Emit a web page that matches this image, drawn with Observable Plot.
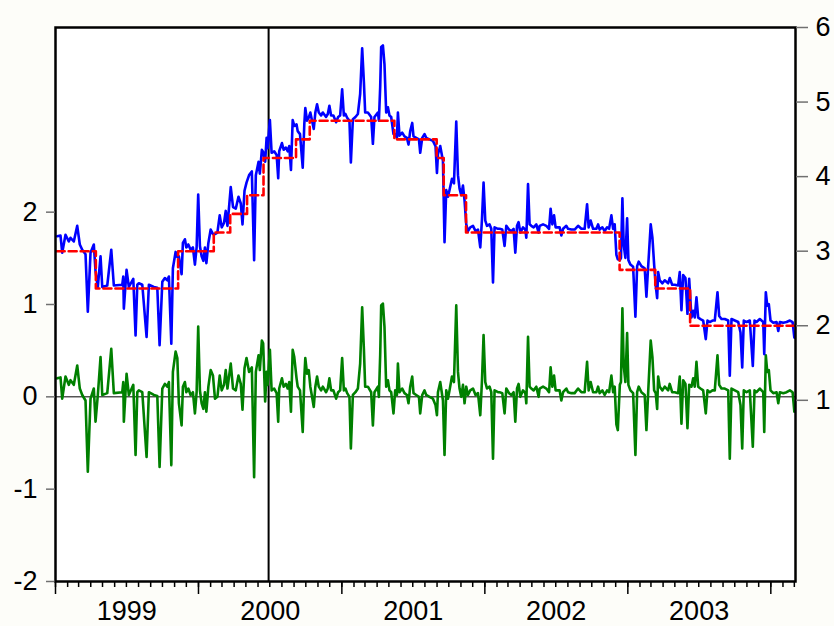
<!DOCTYPE html>
<html><head><meta charset="utf-8">
<script src="https://cdn.jsdelivr.net/npm/d3@7"></script>
<script src="https://cdn.jsdelivr.net/npm/@observablehq/plot@0.6"></script>
<style>
html,body{margin:0;padding:0;background:#fdfdf9;}
#chart{width:834px;height:626px;}
</style></head><body><div id="chart"></div>
<script>
// ECB main refinancing (minimum bid) rate, effective dates (right axis, %)
const mroDates = ["1999-01-04","1999-04-14","1999-11-10","2000-02-09","2000-03-22","2000-05-04","2000-06-15","2000-09-06","2000-10-11","2001-05-15","2001-08-31","2001-09-18","2001-11-14","2002-12-11","2003-03-12","2003-06-09","2004-03-02"];
const mroRates = [3.0,2.5,3.0,3.25,3.5,3.75,4.25,4.5,4.75,4.5,4.25,3.75,3.25,2.75,2.5,2.0,2.0];

// EONIA minus MRO spread (left axis), [decimal year, value]
const spread1999 = [[1999.012,0.20],[1999.035,0.21],[1999.047,-0.02],[1999.070,0.22],[1999.093,0.13],[1999.105,0.18],[1999.128,0.13],[1999.152,0.34],[1999.170,0.09],[1999.187,0.02],[1999.210,-0.04],[1999.226,-0.81],[1999.245,-0.02],[1999.268,0.09],[1999.280,-0.27],[1999.296,0.02],[1999.315,0.43],[1999.327,0.02],[1999.362,0.04],[1999.390,0.52],[1999.408,0.04],[1999.467,0.05],[1999.474,0.16],[1999.478,-0.27],[1999.497,0.25],[1999.513,0.02],[1999.544,0.13],[1999.560,-0.63],[1999.572,0.05],[1999.583,0.07],[1999.607,0.05],[1999.637,-0.65],[1999.653,0.05],[1999.688,0.02],[1999.712,0.01],[1999.728,-0.76],[1999.747,0.09],[1999.765,0.14],[1999.782,0.11],[1999.793,0.16],[1999.810,-0.74],[1999.821,0.27],[1999.840,0.49],[1999.852,0.42],[1999.863,-0.07],[1999.882,-0.31],[1999.891,0.11],[1999.905,0.16],[1999.915,0.05],[1999.929,0.09],[1999.945,0.02],[1999.961,0.05],[1999.975,-0.18],[1999.987,0.05],[1999.998,0.76]];
const spread2000 = [[2000.010,0.07],[2000.022,-0.07],[2000.034,-0.13],[2000.045,0.05],[2000.055,-0.16],[2000.069,0.11],[2000.085,0.29],[2000.101,0.23],[2000.115,-0.02],[2000.132,0.00],[2000.148,0.23],[2000.162,0.07],[2000.178,0.13],[2000.190,0.29],[2000.202,0.09],[2000.225,0.36],[2000.241,0.09],[2000.260,0.07],[2000.279,0.23],[2000.295,0.14],[2000.307,-0.14],[2000.321,0.31],[2000.335,0.42],[2000.353,0.27],[2000.372,0.32],[2000.388,-0.87],[2000.400,0.27],[2000.419,0.45],[2000.428,0.29],[2000.442,0.61],[2000.451,0.58],[2000.465,-0.05],[2000.475,0.27],[2000.482,0.13],[2000.498,0.51],[2000.510,0.07],[2000.528,0.09],[2000.545,0.04],[2000.556,-0.27],[2000.563,0.09],[2000.582,0.20],[2000.594,0.11],[2000.610,0.14],[2000.622,0.09],[2000.633,0.16],[2000.645,-0.16],[2000.657,0.51],[2000.668,0.43],[2000.684,0.20],[2000.692,0.11],[2000.708,0.07],[2000.727,-0.38],[2000.738,0.20],[2000.745,0.42],[2000.757,0.25],[2000.769,0.29],[2000.780,0.11],[2000.792,0.00],[2000.804,-0.11],[2000.815,0.11],[2000.827,0.22],[2000.839,0.11],[2000.855,0.07],[2000.867,0.11],[2000.890,0.05],[2000.902,0.09],[2000.913,0.20],[2000.925,0.07],[2000.941,0.07],[2000.960,-0.02],[2000.974,0.05],[2000.988,0.07]];
const spread2001 = [[2001.002,0.42],[2001.014,0.07],[2001.025,0.09],[2001.037,0.04],[2001.053,0.00],[2001.063,-0.56],[2001.077,0.02],[2001.095,0.05],[2001.112,0.09],[2001.128,0.36],[2001.142,0.97],[2001.154,0.52],[2001.163,0.11],[2001.182,0.11],[2001.205,0.05],[2001.217,-0.31],[2001.228,0.05],[2001.252,0.11],[2001.259,0.00],[2001.268,0.45],[2001.275,0.99],[2001.287,1.01],[2001.298,0.76],[2001.310,0.11],[2001.322,0.18],[2001.333,0.07],[2001.345,0.05],[2001.361,-0.18],[2001.373,0.07],[2001.385,0.02],[2001.392,0.36],[2001.403,0.05],[2001.422,0.09],[2001.438,0.04],[2001.455,0.02],[2001.466,-0.07],[2001.478,0.11],[2001.492,0.22],[2001.501,0.04],[2001.520,0.02],[2001.539,0.00],[2001.548,-0.18],[2001.562,0.02],[2001.578,0.07],[2001.590,0.02],[2001.613,0.00],[2001.637,-0.02],[2001.655,-0.09],[2001.665,-0.20],[2001.672,0.05],[2001.688,0.16],[2001.707,-0.04],[2001.718,-0.63],[2001.730,0.07],[2001.742,-0.02],[2001.753,0.07],[2001.770,0.22],[2001.784,0.16],[2001.800,0.99],[2001.812,0.27],[2001.823,0.09],[2001.835,0.00],[2001.847,0.13],[2001.858,-0.07],[2001.870,0.11],[2001.882,0.02],[2001.898,0.07],[2001.917,0.09],[2001.935,0.02],[2001.952,0.04],[2001.968,-0.20],[2001.980,0.18],[2001.991,0.67]];
const spread2002 = [[2002.003,0.16],[2002.015,0.09],[2002.033,0.11],[2002.045,0.05],[2002.057,-0.67],[2002.068,0.07],[2002.092,0.05],[2002.103,0.05],[2002.122,0.04],[2002.138,-0.18],[2002.150,0.09],[2002.169,0.04],[2002.185,0.02],[2002.201,0.05],[2002.213,-0.27],[2002.225,0.09],[2002.236,0.14],[2002.248,0.00],[2002.267,0.07],[2002.283,0.04],[2002.290,-0.07],[2002.302,0.65],[2002.313,0.11],[2002.325,0.09],[2002.341,0.07],[2002.360,0.11],[2002.376,0.00],[2002.383,0.09],[2002.407,0.11],[2002.430,0.09],[2002.449,0.05],[2002.460,0.32],[2002.472,0.11],[2002.484,0.23],[2002.495,0.07],[2002.523,0.07],[2002.535,-0.04],[2002.547,0.05],[2002.570,0.09],[2002.582,0.05],[2002.605,0.04],[2002.628,0.04],[2002.652,0.09],[2002.675,0.05],[2002.698,0.05],[2002.715,0.38],[2002.726,0.07],[2002.740,0.16],[2002.757,0.05],[2002.780,0.05],[2002.792,0.11],[2002.803,0.04],[2002.822,0.07],[2002.838,0.02],[2002.855,0.07],[2002.869,0.05],[2002.885,0.23],[2002.897,0.05],[2002.908,0.11],[2002.920,-0.30],[2002.930,-0.36],[2002.944,0.13],[2002.952,0.16],[2002.962,0.96],[2002.971,0.34],[2002.983,0.16],[2002.995,0.69]];
const spread2003 = [[2003.004,0.13],[2003.018,0.07],[2003.037,0.04],[2003.053,-0.63],[2003.065,0.05],[2003.076,0.11],[2003.095,0.05],[2003.118,0.02],[2003.130,-0.36],[2003.142,0.04],[2003.160,0.61],[2003.172,0.43],[2003.184,0.07],[2003.195,0.04],[2003.205,-0.13],[2003.212,0.22],[2003.223,0.11],[2003.242,0.07],[2003.258,0.11],[2003.282,0.07],[2003.293,0.14],[2003.310,0.05],[2003.328,0.05],[2003.352,0.04],[2003.363,0.22],[2003.375,-0.29],[2003.387,0.18],[2003.403,0.14],[2003.417,-0.34],[2003.429,0.13],[2003.445,0.11],[2003.457,0.20],[2003.468,0.11],[2003.480,0.38],[2003.492,0.11],[2003.508,0.09],[2003.527,0.07],[2003.545,-0.18],[2003.557,0.07],[2003.573,0.05],[2003.592,0.07],[2003.608,0.07],[2003.627,0.45],[2003.639,0.13],[2003.655,0.09],[2003.678,0.09],[2003.702,0.07],[2003.713,-0.67],[2003.725,0.09],[2003.748,0.07],[2003.772,0.05],[2003.788,-0.09],[2003.800,-0.56],[2003.811,0.07],[2003.830,0.05],[2003.853,0.07],[2003.874,-0.54],[2003.886,0.07],[2003.900,0.05],[2003.923,0.09],[2003.947,0.05],[2003.954,-0.38],[2003.965,0.45],[2003.975,0.27],[2003.986,0.29],[2003.998,0.07]];
const spread2004 = [[2004.017,0.04],[2004.040,0.05],[2004.052,-0.07],[2004.063,0.05],[2004.087,0.04],[2004.110,0.05],[2004.133,0.07],[2004.152,0.05],[2004.164,-0.16]];

const leftTicks = [-2,-1,0,1,2];
const rightTicks = [1,2,3,4,5,6];
const yearLabels = [1999,2000,2001,2002,2003];
const regimeChange = "2000-06-28";
const xDomain = ["1999-01-01","2004-03-04"];
const leftDomain = [-2,4];
const rightDomain = [-1.43,6];

function decYearToDate(t){const y=Math.floor(t);const s=Date.UTC(y,0,1),e=Date.UTC(y+1,0,1);return new Date(s+(t-y)*(e-s));}
const mro = mroDates.map((d,i)=>({date:new Date(d),rate:mroRates[i]}));
function mroAt(date){let r=mro[0].rate;for(const m of mro){if(m.date<=date)r=m.rate;else break;}return r;}
const spread = [].concat(spread1999,spread2000,spread2001,spread2002,spread2003,spread2004).map(([t,v])=>({date:decYearToDate(t),value:v}));
const eonia = spread.map(d=>({date:d.date,rate:mroAt(d.date)+d.value}));
const toLeft = r => leftDomain[0]+(r-rightDomain[0])*(leftDomain[1]-leftDomain[0])/(rightDomain[1]-rightDomain[0]);
const fromLeft = v => rightDomain[0]+(v-leftDomain[0])*(rightDomain[1]-rightDomain[0])/(leftDomain[1]-leftDomain[0]);

const x0 = new Date(xDomain[0]), x1 = new Date(xDomain[1]);
const months = d3.utcMonth.range(x0, x1);
const years = d3.utcYear.range(x0, x1);
const labelDates = yearLabels.map(y=>new Date(Date.UTC(y,6,2)));
const font = "'Liberation Sans', Arial, Helvetica, sans-serif";

const chart = Plot.plot({
  width:834, height:626,
  marginLeft:55, marginRight:39, marginTop:27, marginBottom:45,
  style:{background:"transparent", fontFamily:font, color:"black", overflow:"visible"},
  x:{type:"utc", domain:[x0,x1]},
  y:{domain:leftDomain},
  marks:[
    Plot.frame({fill:"white", stroke:null}),
    Plot.ruleY([0], {stroke:"black", strokeWidth:1}),
    Plot.ruleX([new Date(regimeChange)], {stroke:"black", strokeWidth:2}),
    Plot.lineY(spread, {x:"date", y:"value", stroke:"#008000", strokeWidth:2.6}),
    Plot.lineY(eonia, {x:"date", y:d=>toLeft(d.rate), stroke:"#0000ff", strokeWidth:2.6}),
    Plot.lineY(mro, {x:"date", y:d=>toLeft(d.rate), stroke:"#ff0000", strokeWidth:2.6, strokeDasharray:"8,4", curve:"step-after"}),
    Plot.frame({stroke:"black", strokeWidth:2.5}),
    Plot.axisY(leftTicks, {anchor:"left", label:null, tickSize:9, tickPadding:9, stroke:"#707070", strokeWidth:1.5, fill:"black", fontSize:27, tickFormat:d=>String(d)}),
    Plot.axisY(rightTicks.map(toLeft), {anchor:"right", label:null, tickSize:12, tickPadding:8, stroke:"#707070", strokeWidth:1.5, fill:"black", fontSize:27, tickFormat:v=>String(Math.round(fromLeft(v)))}),
    Plot.axisX(months, {anchor:"bottom", label:null, tickSize:6, stroke:"black", strokeWidth:1.5, fill:"none"}),
    Plot.axisX(years, {anchor:"bottom", label:null, tickSize:13, stroke:"black", strokeWidth:1.5, fill:"none"}),
    Plot.axisX(labelDates, {anchor:"bottom", label:null, tickSize:0, tickPadding:19, fill:"black", fontSize:27, tickFormat:d=>String(d.getUTCFullYear())})
  ]
});
document.getElementById("chart").appendChild(chart);
</script>
</body></html>
